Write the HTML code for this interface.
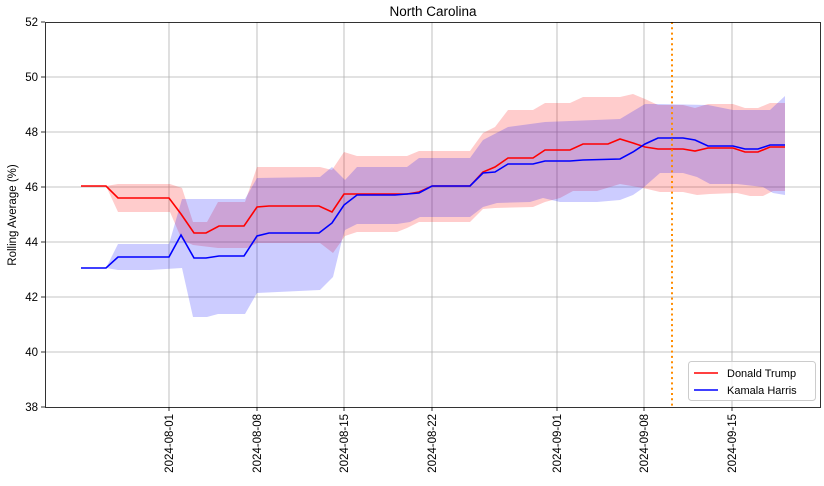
<!DOCTYPE html>
<html><head><meta charset="utf-8"><style>body{margin:0;background:#fff}svg{display:block;font-family:"Liberation Sans","DejaVu Sans",sans-serif}</style></head>
<body>
<svg width="824" height="486" viewBox="0 0 824 486" xmlns="http://www.w3.org/2000/svg">
<rect width="824" height="486" fill="#fff"/>
<g stroke="#b0b0b0" stroke-width="0.8">
<line x1="169" y1="22" x2="169" y2="407"/><line x1="257" y1="22" x2="257" y2="407"/><line x1="344" y1="22" x2="344" y2="407"/><line x1="432" y1="22" x2="432" y2="407"/><line x1="557" y1="22" x2="557" y2="407"/><line x1="644" y1="22" x2="644" y2="407"/><line x1="732" y1="22" x2="732" y2="407"/>
<line x1="45" y1="77" x2="820" y2="77"/><line x1="45" y1="132" x2="820" y2="132"/><line x1="45" y1="187" x2="820" y2="187"/><line x1="45" y1="242" x2="820" y2="242"/><line x1="45" y1="297" x2="820" y2="297"/><line x1="45" y1="352" x2="820" y2="352"/>
</g>
<polygon fill="rgba(255,0,0,0.2)" points="81,186 106,186 118,184 170,184 182,188 193,222 207,222 218,202 245,202 257,167 320,167 332,170 344,152 357,156 407,156 419,151 470,151 483,133 495,127 508,110 533,110 545,103 570,103 583,97 620,97 633,94 645,99 658,105 683,105 695,108 708,104 733,104 745,108 758,108 770,103 785,103 785,191 773,191 763,196 750,196 737,193 710,194 697,195 683,192 660,192 643,188 620,184 597,191 573,191 560,198 545,202 533,207 495,208 483,209 470,222 419,222 407,228 397,232 357,232 345,236 333,253 320,243 257,243 247,248 218,248 193,245 182,240 170,212 118,212 106,186"/>
<polygon fill="rgba(0,0,255,0.2)" points="81,268 106,268 118,244 169,244 182,199 245,199 257,178 320,177 332,167 345,180 357,167 407,167 419,158 470,158 483,140 508,127 545,122 620,119 645,104 658,104 708,105 733,110 770,110 785,96 785,195 773,193 763,187 737,184 710,184 697,177 683,173 660,173 652,180 643,188 633,195 620,200 597,202 560,202 543,198 530,202 497,203 483,207 470,217 420,217 410,222 397,224 357,224 345,230 342,240 333,277 320,290 257,293 245,314 218,314 207,317 193,317 182,268 150,270 118,270 106,268"/>
<polyline fill="none" stroke="#f00" stroke-width="1.6" points="81,186 106,186 118,198 169,198 181,214 194,233 206,233 219,226 244,226 257,207 269,206 319,206 332,212 344,194 357,194 407,194 419,192 432,186 470,186 483,172 495,167 508,158 533,158 545,150 570,150 583,144 608,144 620,139 633,143 645,147 658,149 683,149 695,151 708,148 733,148 745,152 758,152 770,147 785,147"/>
<polyline fill="none" stroke="#00f" stroke-width="1.6" points="81,268 106,268 118,257 169,257 181,235 194,258 206,258 219,256 244,256 257,236 269,233 319,233 332,223 344,205 357,195 395,195 407,194 419,193 432,186 470,186 483,173 495,172 508,164 533,164 545,161 570,161 583,160 620,159 633,152 645,144 658,138 683,138 695,140 708,146 733,146 745,149 758,149 770,145 785,145"/>
<line x1="672" y1="22" x2="672" y2="407" stroke="#ff8c00" stroke-width="2" stroke-dasharray="2,3.3"/>
<rect x="45.5" y="22.5" width="775" height="385" fill="none" stroke="#000" stroke-width="0.8"/>
<g stroke="#000" stroke-width="0.8">
<line x1="41" y1="22" x2="45" y2="22"/><line x1="41" y1="77" x2="45" y2="77"/><line x1="41" y1="132" x2="45" y2="132"/><line x1="41" y1="187" x2="45" y2="187"/><line x1="41" y1="242" x2="45" y2="242"/><line x1="41" y1="297" x2="45" y2="297"/><line x1="41" y1="352" x2="45" y2="352"/><line x1="41" y1="407" x2="45" y2="407"/>
<line x1="169" y1="407" x2="169" y2="411"/><line x1="257" y1="407" x2="257" y2="411"/><line x1="344" y1="407" x2="344" y2="411"/><line x1="432" y1="407" x2="432" y2="411"/><line x1="557" y1="407" x2="557" y2="411"/><line x1="644" y1="407" x2="644" y2="411"/><line x1="732" y1="407" x2="732" y2="411"/>
</g>
<g font-size="11.5" text-anchor="end" fill="#000">
<text x="38" y="26">52</text><text x="38" y="81">50</text><text x="38" y="136">48</text><text x="38" y="191">46</text><text x="38" y="246">44</text><text x="38" y="301">42</text><text x="38" y="356">40</text><text x="38" y="411">38</text>
<text transform="translate(173,414) rotate(-90)">2024-08-01</text>
<text transform="translate(261,414) rotate(-90)">2024-08-08</text>
<text transform="translate(348,414) rotate(-90)">2024-08-15</text>
<text transform="translate(436,414) rotate(-90)">2024-08-22</text>
<text transform="translate(561,414) rotate(-90)">2024-09-01</text>
<text transform="translate(648,414) rotate(-90)">2024-09-08</text>
<text transform="translate(736,414) rotate(-90)">2024-09-15</text>
</g>
<text x="16" y="215" font-size="11.5" text-anchor="middle" transform="rotate(-90 16 215)">Rolling Average (%)</text>
<text x="433" y="16" font-size="13.5" text-anchor="middle">North Carolina</text>
<rect x="688.5" y="361.5" width="127" height="39" rx="3" fill="#fff" fill-opacity="0.8" stroke="#ccc"/>
<line x1="694" y1="373" x2="718" y2="373" stroke="#f00" stroke-width="1.6"/>
<line x1="694" y1="390" x2="718" y2="390" stroke="#00f" stroke-width="1.6"/>
<text x="727" y="377" font-size="11">Donald Trump</text>
<text x="727" y="394" font-size="11">Kamala Harris</text>
</svg>
</body></html>
